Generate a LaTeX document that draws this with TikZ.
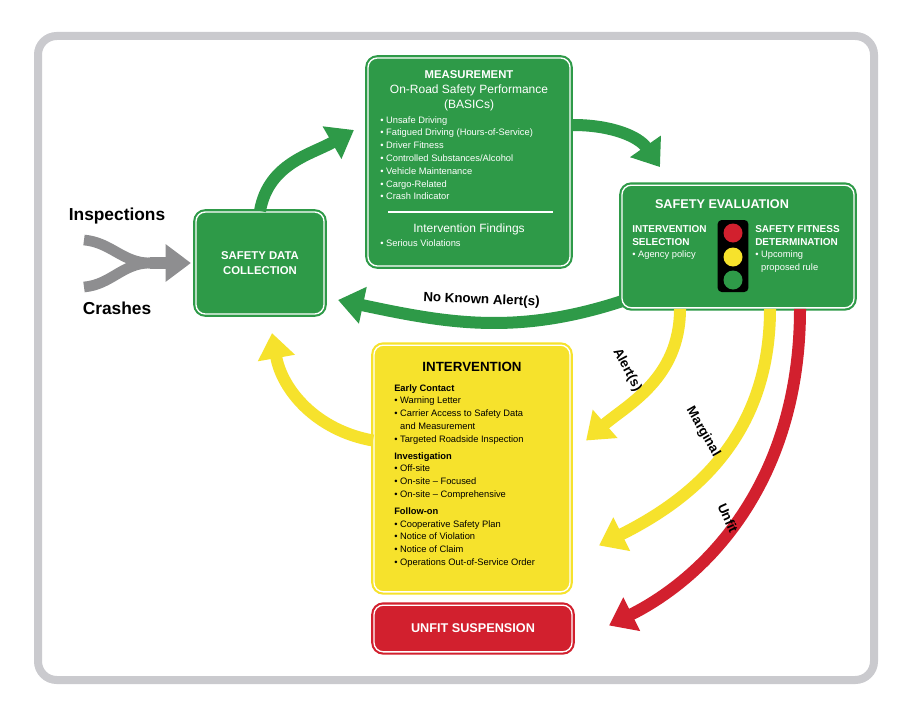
\documentclass[tikz,border=0pt]{standalone}
\usepackage{fontspec}
\setmainfont{Liberation Sans}
\usepackage{xcolor}
\usetikzlibrary{arrows.meta,positioning,calc}
\definecolor{fgreen}{HTML}{2E9A48}
\definecolor{fyellow}{HTML}{F6E22C}
\definecolor{fred}{HTML}{D2202E}
\definecolor{fgray}{HTML}{8E8E90}
\definecolor{fframe}{HTML}{CACACE}
\tikzset{
    box/.style={
        rectangle,
        rounded corners=7pt,
        line width=1.6pt,
        double distance=1pt,
        inner sep=0pt
    },
    greenbox/.style={box, draw=fgreen, double=white, fill=fgreen, text=white},
    yellowbox/.style={box, draw=fyellow, double=white, fill=fyellow},
    redbox/.style={box, draw=fred, double=white, fill=fred, text=white},
    flow/.style={line width=9pt, -{Triangle[width=27pt,length=19pt]}},
    garrow/.style={flow, draw=fgreen},
    yarrow/.style={flow, draw=fyellow},
    rarrow/.style={flow, draw=fred},
    txt/.style={inner sep=0pt, align=left, font={\fontsize{7}{9.6}\selectfont}},
    lbl/.style={font={\fontsize{10}{12}\selectfont\bfseries}},
}
\newcommand{\headfont}{\fontsize{7.5}{9}\selectfont\bfseries}
\newcommand{\itemfont}{\fontsize{7}{9.6}\selectfont\mdseries}
\begin{document}
\begin{tikzpicture}[x=0.75pt,y=0.75pt]
    \useasboundingbox (0,0) rectangle (920,-710);
    \draw[fframe, line width=6pt, fill=white, rounded corners=14pt] (38,-36) rectangle (874,-680);

    % boxes
    \node[greenbox, minimum width=96pt, minimum height=76.5pt, align=center,
          font={\fontsize{8.5}{11}\selectfont\bfseries}] (coll) at (260,-263)
          {SAFETY DATA\\COLLECTION};
    \node[greenbox, minimum width=151.5pt, minimum height=156pt] (meas) at (469,-162) {};
    \node[greenbox, minimum width=174pt, minimum height=92pt] (eval) at (738,-246.5) {};
    \node[yellowbox, minimum width=147pt, minimum height=185pt] (interv) at (472,-468.5) {};
    \node[redbox, minimum width=148.5pt, minimum height=35pt,
          font={\fontsize{9.5}{11}\selectfont\bfseries}] (unfit) at (473,-628.5) {UNFIT SUSPENSION};

    % measurement text
    \node[text=white, align=center, font={\fontsize{8.5}{10}\selectfont\bfseries}] (meastitle) at (469,-75) {MEASUREMENT};
    \node[text=white, align=center, font={\fontsize{9}{11}\selectfont}] (basics) at (469,-98) {On-Road Safety Performance\\(BASICs)};
    \node[txt, text=white, anchor=north west] (meastext) at (380,-116) {%
        • Unsafe Driving\\
        • Fatigued Driving (Hours-of-Service)\\
        • Driver Fitness\\
        • Controlled Substances/Alcohol\\
        • Vehicle Maintenance\\
        • Cargo-Related\\
        • Crash Indicator};
    \draw[white, line width=1pt] (388,-212) -- (553,-212);
    \node[text=white, font={\fontsize{9}{11}\selectfont}] (findings) at (469,-229) {Intervention Findings};
    \node[txt, text=white, anchor=north west] (serious) at (380,-239) {• Serious Violations};

    % safety evaluation text
    \node[text=white, font={\fontsize{9.5}{11}\selectfont\bfseries}] (evaltitle) at (722,-204) {SAFETY EVALUATION};
    \node[txt, text=white, anchor=north west] (selection) at (632,-225) {%
        \headfont INTERVENTION\\\headfont SELECTION\\\itemfont • Agency policy};
    \node[txt, text=white, anchor=north west] (fitness) at (755,-225) {%
        \headfont SAFETY FITNESS\\\headfont DETERMINATION\\\itemfont • Upcoming\\\itemfont\phantom{• }proposed rule};
    \node[fill=black, rounded corners=3pt, minimum width=23pt, minimum height=54pt] (light) at (733,-256) {};
    \fill[fred] (733,-233) circle (9.5);
    \fill[fyellow] (733,-257) circle (9.5);
    \fill[fgreen] (733,-280) circle (9.5);

    % intervention text
    \node[font={\fontsize{10}{12}\selectfont\bfseries}] (intervtitle) at (472,-367) {INTERVENTION};
    \node[txt, anchor=north west] (intervtext) at (394,-384) {%
        \textbf{Early Contact}\\
        • Warning Letter\\
        • Carrier Access to Safety Data\\
        \phantom{• }and Measurement\\
        • Targeted Roadside Inspection\\[3pt]
        \textbf{Investigation}\\
        • Off-site\\
        • On-site – Focused\\
        • On-site – Comprehensive\\[3pt]
        \textbf{Follow-on}\\
        • Cooperative Safety Plan\\
        • Notice of Violation\\
        • Notice of Claim\\
        • Operations Out-of-Service Order};

    % inputs
    \node[font={\fontsize{13}{15}\selectfont\bfseries}] (insp) at (117,-216) {Inspections};
    \node[font={\fontsize{13}{15}\selectfont\bfseries}] (crash) at (117,-308) {Crashes};
    \coordinate (forkA) at (84,-240);
    \coordinate (forkB) at (84,-287);
    \coordinate (merge) at (150,-263);
    \draw[fgray, line width=8pt] (forkA) to[out=-5,in=180] (merge);
    \draw[fgray, line width=8pt] (forkB) to[out=5,in=180] (merge);
    \draw[flow, draw=fgray] (merge) -- ([xshift=-3pt]coll.west);

    % cycle
    \draw[garrow] (coll.north) to[out=80,in=210] ([shift={(-13,32)}]meas.west);
    \draw[garrow] ([shift={(2,37)}]meas.east) to[out=0,in=125] ([shift={(-78,17)}]eval.north);
    \draw[garrow] ([shift={(0,-55)}]eval.west) to[out=198,in=-12]
        node[lbl, above=4pt, sloped, pos=0.5] {No Known Alert(s)} ([shift={(13,-37)}]coll.east);
    \draw[yarrow] ([shift={(0,28)}]interv.west) to[out=170,in=-80] ([shift={(12,-18)}]coll.south);
    \draw[yarrow] ([shift={(-58,0)}]eval.south) .. controls +(0,-70) and +(40,35) .. ([shift={(15,28)}]interv.east);
    \draw[yarrow] ([shift={(32,0)}]eval.south) .. controls +(0,-130) and +(90,45) .. ([shift={(28,-77)}]interv.east);
    \draw[rarrow] ([shift={(62,0)}]eval.south) .. controls +(0,-170) and +(100,50) .. ([shift={(36,3)}]unfit.east);

    % branch labels
    \node[lbl, rotate=-62] (alertlbl) at (627,-370) {Alert(s)};
    \node[lbl, rotate=-60] (marglbl) at (703,-432) {Marginal};
    \node[lbl, rotate=-66] (unfitlbl) at (728,-518) {Unfit};
\end{tikzpicture}
\end{document}
